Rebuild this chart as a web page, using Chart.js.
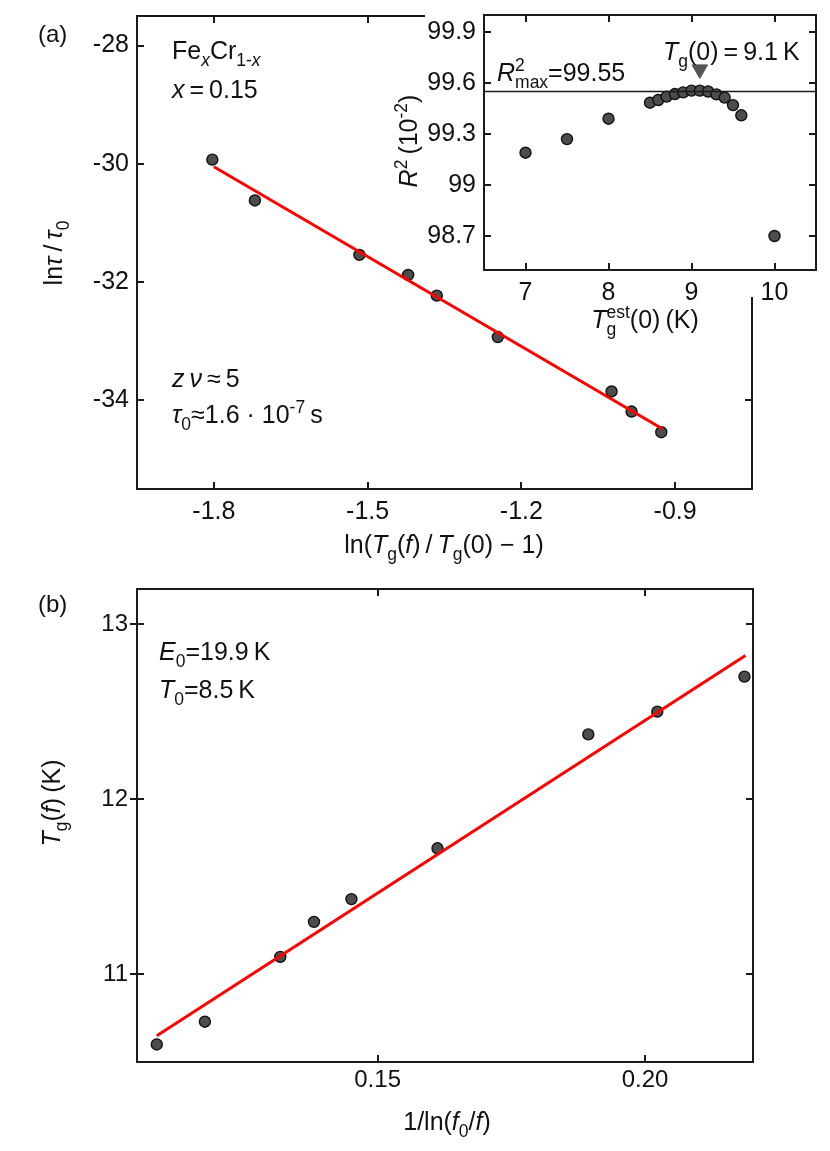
<!DOCTYPE html>
<html>
<head>
<meta charset="utf-8">
<script src="https://cdn.jsdelivr.net/npm/chart.js@4.4.1/dist/chart.umd.min.js"></script>
<style>
  body { margin: 0; background: #fff; }
  #page { position: relative; width: 830px; height: 1151px; }
  canvas { position: absolute; }
</style>
</head>
<body>
<div id="page">
  <canvas id="chartA" width="830" height="575" style="left:0;top:0"></canvas>
  <canvas id="chartB" width="830" height="576" style="left:0;top:575px"></canvas>
  <canvas id="inset" width="450" height="345" style="left:380px;top:0"></canvas>
</div>
<script>
// Panel (a): critical slowing down fit
const lnReduced = [-1.803, -1.720, -1.516, -1.421, -1.365, -1.246, -1.024, -0.985, -0.927];
const lnTau = [-29.93, -30.62, -31.54, -31.88, -32.23, -32.93, -33.85, -34.19, -34.54];
const fitAX = [-1.80, -0.925];
const fitAY = [-30.05, -34.48];
const xTicksA = [-1.8, -1.5, -1.2, -0.9];
const xLabelsA = ['-1.8', '-1.5', '-1.2', '-0.9'];
const yTicksA = [-34, -32, -30, -28];
const yLabelsA = ['-34', '-32', '-30', '-28'];

// Inset: R^2 vs estimated Tg(0)
const tgEst = [7, 7.5, 8, 8.5, 8.6, 8.7, 8.8, 8.9, 9.0, 9.1, 9.2, 9.3, 9.4, 9.5, 9.6, 10];
const r2 = [99.19, 99.27, 99.39, 99.484, 99.50, 99.52, 99.535, 99.545, 99.555, 99.555, 99.55, 99.533, 99.514, 99.47, 99.41, 98.70];
const r2Max = 99.55;
const tgBest = [9.1];
const tgBestMark = [99.68];
const xTicksIn = [7, 8, 9, 10];
const xLabelsIn = ['7', '8', '9', '10'];
const yTicksIn = [98.7, 99, 99.3, 99.6, 99.9];
const yLabelsIn = ['98.7', '99', '99.3', '99.6', '99.9'];

// Panel (b): Vogel-Fulcher fit
const invLnF = [0.1087, 0.1177, 0.1318, 0.1381, 0.1451, 0.1612, 0.1894, 0.2023, 0.2186];
const tgF = [10.60, 10.73, 11.10, 11.30, 11.43, 11.72, 12.37, 12.50, 12.70];
const fitBX = [0.1087, 0.2188];
const fitBY = [10.65, 12.82];
const xTicksB = [0.15, 0.20];
const xLabelsB = ['0.15', '0.20'];
const yTicksB = [11, 12, 13];
const yLabelsB = ['11', '12', '13'];

const FONT = '"Liberation Sans", Arial, Helvetica, sans-serif';
Chart.defaults.font.family = FONT;
Chart.defaults.color = '#111';

const toPts = (xs, ys) => xs.map((x, i) => ({ x, y: ys[i] }));

/**
 * Rich text: parts are [text, flags], flags: i = italic, b = subscript,
 * p = superscript, s = stacked "sup|sub"
 */
function setFont(ctx, size, italic) {
  ctx.font = (italic ? 'italic ' : '') + size + 'px ' + FONT;
}

function partWidth(ctx, part, size) {
  const [t, f = ''] = part;
  const it = f.includes('i');
  if (f.includes('s')) {
    const [sp, sb] = t.split('|');
    setFont(ctx, size * 0.7, false);
    return Math.max(ctx.measureText(sp).width, ctx.measureText(sb).width);
  }
  const sz = (f.includes('b') || f.includes('p')) ? size * 0.7 : size;
  setFont(ctx, sz, it);
  return ctx.measureText(t).width;
}

function drawRich(ctx, parts, x, y, size, align, rotate) {
  ctx.save();
  ctx.translate(x, y);
  if (rotate) ctx.rotate(-Math.PI / 2);
  ctx.fillStyle = '#111';
  ctx.textBaseline = 'alphabetic';
  ctx.textAlign = 'left';
  const total = parts.reduce((s, p) => s + partWidth(ctx, p, size), 0);
  let cx = align === 'center' ? -total / 2 : 0;
  parts.forEach(p => {
    const [t, f = ''] = p;
    const w = partWidth(ctx, p, size);
    if (f.includes('s')) {
      const [sp, sb] = t.split('|');
      setFont(ctx, size * 0.7, false);
      ctx.fillText(sp, cx, -size * 0.42);
      ctx.fillText(sb, cx, size * 0.28);
    } else {
      const it = f.includes('i');
      const sz = (f.includes('b') || f.includes('p')) ? size * 0.7 : size;
      const dy = f.includes('b') ? size * 0.28 : f.includes('p') ? -size * 0.42 : 0;
      setFont(ctx, sz, it);
      ctx.fillText(t, cx, dy);
    }
    cx += w;
  });
  ctx.restore();
}

// Frame with inward ticks on all sides, plus the rich labels
const framePlugin = {
  id: 'frame',
  afterDraw(chart, args, opts) {
    const { ctx, chartArea: { left, right, top, bottom } } = chart;
    const xs = chart.scales.x, ys = chart.scales.y;
    const topEnd = opts.topEnd || right;
    const rightStart = opts.rightStart || top;
    const tl = 7;
    ctx.save();
    ctx.strokeStyle = '#1a1a1a';
    ctx.lineWidth = 2;
    ctx.beginPath();
    ctx.moveTo(left, top - 1); ctx.lineTo(left, bottom); ctx.lineTo(right, bottom);
    ctx.moveTo(left, top); ctx.lineTo(topEnd, top);
    ctx.moveTo(right, rightStart - 1); ctx.lineTo(right, bottom + 1);
    xs.ticks.forEach(t => {
      const px = Math.round(xs.getPixelForValue(t.value));
      ctx.moveTo(px, bottom); ctx.lineTo(px, bottom - tl);
      if (px < topEnd) { ctx.moveTo(px, top); ctx.lineTo(px, top + tl); }
    });
    ys.ticks.forEach(t => {
      const py = Math.round(ys.getPixelForValue(t.value));
      ctx.moveTo(left - (opts.leftOut || 0), py); ctx.lineTo(left + tl, py);
      if (py > rightStart) { ctx.moveTo(right, py); ctx.lineTo(right - tl, py); }
    });
    ctx.stroke();
    ctx.restore();
    (opts.labels || []).forEach(l => drawRich(ctx, l.parts, l.x, l.y, l.size || 25, l.align, l.rotate));
  }
};

function axisCfg(axis, min, max, ticks, labels, size, pad, fit) {
  return {
    type: 'linear', min, max,
    grid: { display: false, drawTicks: false },
    border: { display: false },
    ticks: {
      font: { size }, color: '#111', padding: pad,
      autoSkip: false, maxRotation: 0,
      callback: (v, i) => labels[i]
    },
    afterBuildTicks: s => { s.ticks = ticks.map(v => ({ value: v })); },
    afterFit: s => {
      if (axis === 'x') s.height = fit; else s.width = fit;
      // keep the chart area exactly where the layout padding puts it
      s.paddingTop = s.paddingBottom = s.paddingLeft = s.paddingRight = 0;
    }
  };
}

const markerStyle = {
  pointRadius: 5.5,
  pointBackgroundColor: '#4d4d4d',
  pointBorderColor: '#111',
  pointBorderWidth: 1.4,
  showLine: false
};

const fitStyle = {
  showLine: true,
  borderColor: '#ff0000',
  borderWidth: 3,
  pointRadius: 0
};

const baseOpts = {
  responsive: false,
  animation: false,
  devicePixelRatio: 1,
  plugins: { legend: { display: false }, tooltip: { enabled: false } }
};

// Panel (a)
new Chart(document.getElementById('chartA'), {
  type: 'scatter',
  data: {
    datasets: [
      { data: toPts(fitAX, fitAY), ...fitStyle },
      { data: toPts(lnReduced, lnTau), ...markerStyle }
    ]
  },
  options: {
    ...baseOpts,
    layout: { padding: { left: 0, top: 16, right: 78, bottom: 0 } },
    scales: {
      x: axisCfg('x', -1.95, -0.75, xTicksA, xLabelsA, 25, 8, 86),
      y: axisCfg('y', -35.5, -27.5, yTicksA, yLabelsA, 25, 8, 137)
    },
    plugins: {
      ...baseOpts.plugins,
      frame: {
        topEnd: 425, rightStart: 298,
        labels: [
          { parts: [['(a)']], x: 38, y: 42, size: 24 },
          { parts: [['Fe'], ['x', 'ib'], ['Cr'], ['1-', 'b'], ['x', 'ib']], x: 172, y: 59 },
          { parts: [['x', 'i'], ['\u2009=\u20090.15']], x: 172, y: 98 },
          { parts: [['z\u2009\u03bd', 'i'], ['\u2009\u2248\u20095']], x: 172, y: 387 },
          { parts: [['\u03c4', 'i'], ['0', 'b'], ['\u22481.6 \u00b7 10'], ['-7', 'p'], ['\u2009s']], x: 172, y: 423 },
          { parts: [['ln('], ['T', 'i'], ['g', 'b'], ['('], ['f', 'i'], [')\u2009/\u2009'], ['T', 'i'], ['g', 'b'], ['(0) \u2212 1)']], x: 444, y: 553, align: 'center' },
          { parts: [['ln'], ['\u03c4', 'i'], ['\u2009/\u2009'], ['\u03c4', 'i'], ['0', 'b']], x: 62, y: 253, align: 'center', rotate: true }
        ]
      }
    }
  },
  plugins: [framePlugin]
});

// Inset
new Chart(document.getElementById('inset'), {
  type: 'scatter',
  data: {
    datasets: [
      { data: toPts([6.5, 10.5], [r2Max, r2Max]), showLine: true, borderColor: '#1a1a1a', borderWidth: 1.5, pointRadius: 0 },
      { data: toPts(tgEst, r2), ...markerStyle },
      { data: toPts(tgBest, tgBestMark), pointStyle: 'triangle', rotation: 180, pointRadius: 9, pointBackgroundColor: '#555', pointBorderColor: '#555', pointBorderWidth: 1 }
    ]
  },
  options: {
    ...baseOpts,
    layout: { padding: { left: 0, top: 15, right: 14, bottom: 0 } },
    scales: {
      x: axisCfg('x', 6.5, 10.5, xTicksIn, xLabelsIn, 25, 8, 75),
      y: axisCfg('y', 98.5, 100.0, yTicksIn, yLabelsIn, 25, 8, 104)
    },
    plugins: {
      ...baseOpts.plugins,
      frame: {
        labels: [
          { parts: [['R', 'i'], ['2|max', 's'], ['=99.55']], x: 117, y: 81 },
          { parts: [['T', 'i'], ['g', 'b'], ['(0)\u2009=\u20099.1\u2009K']], x: 283, y: 60 },
          { parts: [['R', 'i'], ['2', 'p'], ['\u2009(10'], ['-2', 'p'], [')']], x: 37, y: 141, align: 'center', rotate: true },
          { parts: [['T', 'i'], ['est|g', 's'], ['(0)\u2009(K)']], x: 265, y: 328, align: 'center' }
        ]
      }
    }
  },
  plugins: [framePlugin]
});

// Panel (b)
new Chart(document.getElementById('chartB'), {
  type: 'scatter',
  data: {
    datasets: [
      { data: toPts(fitBX, fitBY), ...fitStyle },
      { data: toPts(invLnF, tgF), ...markerStyle }
    ]
  },
  options: {
    ...baseOpts,
    layout: { padding: { left: 0, top: 14, right: 77, bottom: 0 } },
    scales: {
      x: axisCfg('x', 0.105, 0.2202, xTicksB, xLabelsB, 24, 4, 89),
      y: axisCfg('y', 10.5, 13.2, yTicksB, yLabelsB, 24, 9, 137)
    },
    plugins: {
      ...baseOpts.plugins,
      frame: {
        leftOut: 7,
        labels: [
          { parts: [['(b)']], x: 38, y: 37, size: 24 },
          { parts: [['E', 'i'], ['0', 'b'], ['=19.9\u2009K']], x: 159, y: 85 },
          { parts: [['T', 'i'], ['0', 'b'], ['=8.5\u2009K']], x: 159, y: 123 },
          { parts: [['T', 'i'], ['g', 'b'], ['('], ['f', 'i'], [')\u2009(K)']], x: 60, y: 228, align: 'center', rotate: true },
          { parts: [['1/ln('], ['f', 'i'], ['0', 'b'], ['/'], ['f', 'i'], [')']], x: 447, y: 555, align: 'center' }
        ]
      }
    }
  },
  plugins: [framePlugin]
});
</script>
</body>
</html>
